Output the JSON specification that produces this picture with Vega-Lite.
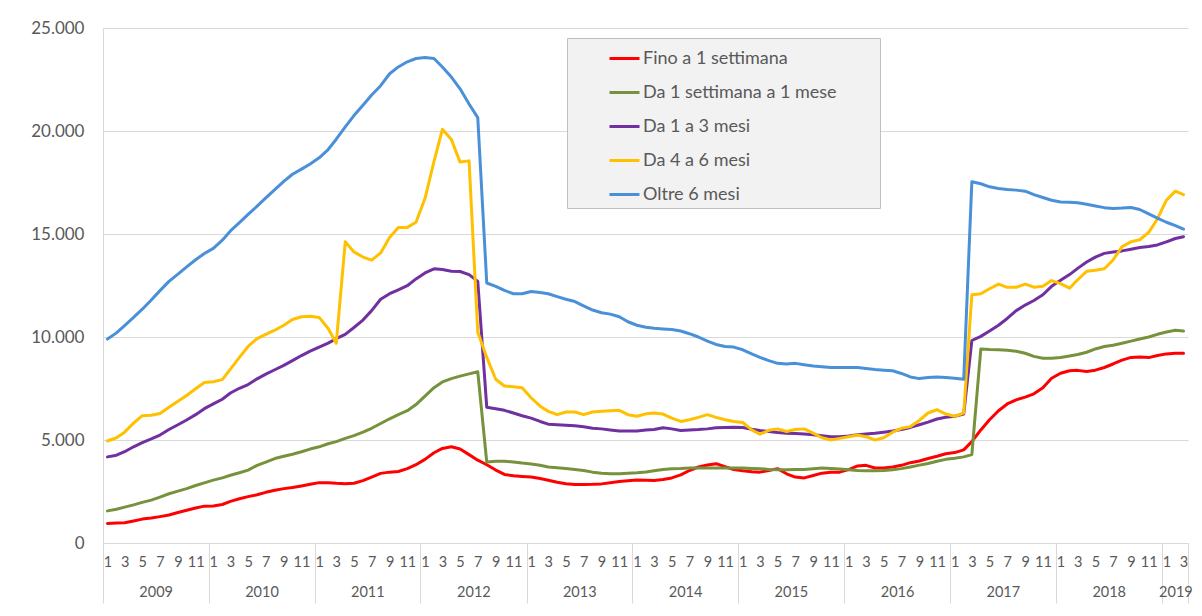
{
  "$schema": "https://vega.github.io/schema/vega-lite/v6.json",
  "width": 1085,
  "height": 515,
  "autosize": {"type": "none"},
  "padding": {"left": 103, "top": 28, "right": 14, "bottom": 73},
  "background": "white",
  "config": {
    "font": "Lato",
    "view": {"stroke": null},
    "axis": {"labelFont": "Lato", "labelColor": "#595959", "domainColor": "#d9d9d9", "tickColor": "#d9d9d9", "gridColor": "#d9d9d9", "title": null}
  },
  "data": {
    "values": [
      {"mese": "2009-01", "Fino a 1 settimana": 950, "Da 1 settimana a 1 mese": 1560, "Da 1 a 3 mesi": 4180, "Da 4 a 6 mesi": 4950, "Oltre 6 mesi": 9900},
      {"mese": "2009-02", "Fino a 1 settimana": 970, "Da 1 settimana a 1 mese": 1640, "Da 1 a 3 mesi": 4260, "Da 4 a 6 mesi": 5110, "Oltre 6 mesi": 10200},
      {"mese": "2009-03", "Fino a 1 settimana": 980, "Da 1 settimana a 1 mese": 1740, "Da 1 a 3 mesi": 4430, "Da 4 a 6 mesi": 5380, "Oltre 6 mesi": 10550},
      {"mese": "2009-04", "Fino a 1 settimana": 1070, "Da 1 settimana a 1 mese": 1850, "Da 1 a 3 mesi": 4670, "Da 4 a 6 mesi": 5820, "Oltre 6 mesi": 10950},
      {"mese": "2009-05", "Fino a 1 settimana": 1160, "Da 1 settimana a 1 mese": 1970, "Da 1 a 3 mesi": 4870, "Da 4 a 6 mesi": 6180, "Oltre 6 mesi": 11350},
      {"mese": "2009-06", "Fino a 1 settimana": 1210, "Da 1 settimana a 1 mese": 2080, "Da 1 a 3 mesi": 5050, "Da 4 a 6 mesi": 6200, "Oltre 6 mesi": 11800},
      {"mese": "2009-07", "Fino a 1 settimana": 1280, "Da 1 settimana a 1 mese": 2230, "Da 1 a 3 mesi": 5240, "Da 4 a 6 mesi": 6290, "Oltre 6 mesi": 12250},
      {"mese": "2009-08", "Fino a 1 settimana": 1360, "Da 1 settimana a 1 mese": 2390, "Da 1 a 3 mesi": 5510, "Da 4 a 6 mesi": 6590, "Oltre 6 mesi": 12700},
      {"mese": "2009-09", "Fino a 1 settimana": 1480, "Da 1 settimana a 1 mese": 2520, "Da 1 a 3 mesi": 5740, "Da 4 a 6 mesi": 6880, "Oltre 6 mesi": 13050},
      {"mese": "2009-10", "Fino a 1 settimana": 1590, "Da 1 settimana a 1 mese": 2640, "Da 1 a 3 mesi": 5970, "Da 4 a 6 mesi": 7160, "Oltre 6 mesi": 13400},
      {"mese": "2009-11", "Fino a 1 settimana": 1700, "Da 1 settimana a 1 mese": 2790, "Da 1 a 3 mesi": 6230, "Da 4 a 6 mesi": 7490, "Oltre 6 mesi": 13750},
      {"mese": "2009-12", "Fino a 1 settimana": 1790, "Da 1 settimana a 1 mese": 2920, "Da 1 a 3 mesi": 6520, "Da 4 a 6 mesi": 7790, "Oltre 6 mesi": 14050},
      {"mese": "2010-01", "Fino a 1 settimana": 1800, "Da 1 settimana a 1 mese": 3050, "Da 1 a 3 mesi": 6750, "Da 4 a 6 mesi": 7830, "Oltre 6 mesi": 14300},
      {"mese": "2010-02", "Fino a 1 settimana": 1870, "Da 1 settimana a 1 mese": 3160, "Da 1 a 3 mesi": 6980, "Da 4 a 6 mesi": 7930, "Oltre 6 mesi": 14700},
      {"mese": "2010-03", "Fino a 1 settimana": 2020, "Da 1 settimana a 1 mese": 3290, "Da 1 a 3 mesi": 7280, "Da 4 a 6 mesi": 8440, "Oltre 6 mesi": 15150},
      {"mese": "2010-04", "Fino a 1 settimana": 2150, "Da 1 settimana a 1 mese": 3410, "Da 1 a 3 mesi": 7510, "Da 4 a 6 mesi": 9010, "Oltre 6 mesi": 15550},
      {"mese": "2010-05", "Fino a 1 settimana": 2250, "Da 1 settimana a 1 mese": 3540, "Da 1 a 3 mesi": 7690, "Da 4 a 6 mesi": 9540, "Oltre 6 mesi": 15950},
      {"mese": "2010-06", "Fino a 1 settimana": 2340, "Da 1 settimana a 1 mese": 3770, "Da 1 a 3 mesi": 7970, "Da 4 a 6 mesi": 9920, "Oltre 6 mesi": 16350},
      {"mese": "2010-07", "Fino a 1 settimana": 2460, "Da 1 settimana a 1 mese": 3930, "Da 1 a 3 mesi": 8200, "Da 4 a 6 mesi": 10130, "Oltre 6 mesi": 16750},
      {"mese": "2010-08", "Fino a 1 settimana": 2560, "Da 1 settimana a 1 mese": 4100, "Da 1 a 3 mesi": 8410, "Da 4 a 6 mesi": 10330, "Oltre 6 mesi": 17150},
      {"mese": "2010-09", "Fino a 1 settimana": 2640, "Da 1 settimana a 1 mese": 4210, "Da 1 a 3 mesi": 8620, "Da 4 a 6 mesi": 10570, "Oltre 6 mesi": 17550},
      {"mese": "2010-10", "Fino a 1 settimana": 2690, "Da 1 settimana a 1 mese": 4310, "Da 1 a 3 mesi": 8850, "Da 4 a 6 mesi": 10850, "Oltre 6 mesi": 17900},
      {"mese": "2010-11", "Fino a 1 settimana": 2770, "Da 1 settimana a 1 mese": 4430, "Da 1 a 3 mesi": 9100, "Da 4 a 6 mesi": 10980, "Oltre 6 mesi": 18150},
      {"mese": "2010-12", "Fino a 1 settimana": 2850, "Da 1 settimana a 1 mese": 4560, "Da 1 a 3 mesi": 9310, "Da 4 a 6 mesi": 11010, "Oltre 6 mesi": 18400},
      {"mese": "2011-01", "Fino a 1 settimana": 2930, "Da 1 settimana a 1 mese": 4670, "Da 1 a 3 mesi": 9510, "Da 4 a 6 mesi": 10950, "Oltre 6 mesi": 18700},
      {"mese": "2011-02", "Fino a 1 settimana": 2930, "Da 1 settimana a 1 mese": 4820, "Da 1 a 3 mesi": 9700, "Da 4 a 6 mesi": 10410, "Oltre 6 mesi": 19100},
      {"mese": "2011-03", "Fino a 1 settimana": 2900, "Da 1 settimana a 1 mese": 4920, "Da 1 a 3 mesi": 9920, "Da 4 a 6 mesi": 9700, "Oltre 6 mesi": 19600},
      {"mese": "2011-04", "Fino a 1 settimana": 2880, "Da 1 settimana a 1 mese": 5080, "Da 1 a 3 mesi": 10130, "Da 4 a 6 mesi": 14620, "Oltre 6 mesi": 20200},
      {"mese": "2011-05", "Fino a 1 settimana": 2900, "Da 1 settimana a 1 mese": 5210, "Da 1 a 3 mesi": 10460, "Da 4 a 6 mesi": 14130, "Oltre 6 mesi": 20750},
      {"mese": "2011-06", "Fino a 1 settimana": 3030, "Da 1 settimana a 1 mese": 5380, "Da 1 a 3 mesi": 10820, "Da 4 a 6 mesi": 13880, "Oltre 6 mesi": 21250},
      {"mese": "2011-07", "Fino a 1 settimana": 3200, "Da 1 settimana a 1 mese": 5570, "Da 1 a 3 mesi": 11280, "Da 4 a 6 mesi": 13730, "Oltre 6 mesi": 21750},
      {"mese": "2011-08", "Fino a 1 settimana": 3380, "Da 1 settimana a 1 mese": 5800, "Da 1 a 3 mesi": 11830, "Da 4 a 6 mesi": 14080, "Oltre 6 mesi": 22200},
      {"mese": "2011-09", "Fino a 1 settimana": 3440, "Da 1 settimana a 1 mese": 6030, "Da 1 a 3 mesi": 12100, "Da 4 a 6 mesi": 14830, "Oltre 6 mesi": 22780},
      {"mese": "2011-10", "Fino a 1 settimana": 3470, "Da 1 settimana a 1 mese": 6230, "Da 1 a 3 mesi": 12290, "Da 4 a 6 mesi": 15320, "Oltre 6 mesi": 23110},
      {"mese": "2011-11", "Fino a 1 settimana": 3610, "Da 1 settimana a 1 mese": 6420, "Da 1 a 3 mesi": 12490, "Da 4 a 6 mesi": 15320, "Oltre 6 mesi": 23360},
      {"mese": "2011-12", "Fino a 1 settimana": 3800, "Da 1 settimana a 1 mese": 6720, "Da 1 a 3 mesi": 12820, "Da 4 a 6 mesi": 15570, "Oltre 6 mesi": 23520},
      {"mese": "2012-01", "Fino a 1 settimana": 4060, "Da 1 settimana a 1 mese": 7130, "Da 1 a 3 mesi": 13110, "Da 4 a 6 mesi": 16720, "Oltre 6 mesi": 23570},
      {"mese": "2012-02", "Fino a 1 settimana": 4380, "Da 1 settimana a 1 mese": 7540, "Da 1 a 3 mesi": 13310, "Da 4 a 6 mesi": 18520, "Oltre 6 mesi": 23520},
      {"mese": "2012-03", "Fino a 1 settimana": 4590, "Da 1 settimana a 1 mese": 7820, "Da 1 a 3 mesi": 13280, "Da 4 a 6 mesi": 20080, "Oltre 6 mesi": 23110},
      {"mese": "2012-04", "Fino a 1 settimana": 4670, "Da 1 settimana a 1 mese": 7980, "Da 1 a 3 mesi": 13190, "Da 4 a 6 mesi": 19590, "Oltre 6 mesi": 22620},
      {"mese": "2012-05", "Fino a 1 settimana": 4560, "Da 1 settimana a 1 mese": 8100, "Da 1 a 3 mesi": 13180, "Da 4 a 6 mesi": 18490, "Oltre 6 mesi": 22050},
      {"mese": "2012-06", "Fino a 1 settimana": 4290, "Da 1 settimana a 1 mese": 8210, "Da 1 a 3 mesi": 13030, "Da 4 a 6 mesi": 18550, "Oltre 6 mesi": 21310},
      {"mese": "2012-07", "Fino a 1 settimana": 4020, "Da 1 settimana a 1 mese": 8310, "Da 1 a 3 mesi": 12700, "Da 4 a 6 mesi": 10240, "Oltre 6 mesi": 20650},
      {"mese": "2012-08", "Fino a 1 settimana": 3800, "Da 1 settimana a 1 mese": 3930, "Da 1 a 3 mesi": 6590, "Da 4 a 6 mesi": 9010, "Oltre 6 mesi": 12620},
      {"mese": "2012-09", "Fino a 1 settimana": 3540, "Da 1 settimana a 1 mese": 3970, "Da 1 a 3 mesi": 6520, "Da 4 a 6 mesi": 7950, "Oltre 6 mesi": 12460},
      {"mese": "2012-10", "Fino a 1 settimana": 3330, "Da 1 settimana a 1 mese": 3970, "Da 1 a 3 mesi": 6440, "Da 4 a 6 mesi": 7620, "Oltre 6 mesi": 12260},
      {"mese": "2012-11", "Fino a 1 settimana": 3260, "Da 1 settimana a 1 mese": 3930, "Da 1 a 3 mesi": 6310, "Da 4 a 6 mesi": 7590, "Oltre 6 mesi": 12100},
      {"mese": "2012-12", "Fino a 1 settimana": 3230, "Da 1 settimana a 1 mese": 3880, "Da 1 a 3 mesi": 6180, "Da 4 a 6 mesi": 7540, "Oltre 6 mesi": 12100},
      {"mese": "2013-01", "Fino a 1 settimana": 3200, "Da 1 settimana a 1 mese": 3840, "Da 1 a 3 mesi": 6060, "Da 4 a 6 mesi": 7050, "Oltre 6 mesi": 12210},
      {"mese": "2013-02", "Fino a 1 settimana": 3130, "Da 1 settimana a 1 mese": 3770, "Da 1 a 3 mesi": 5900, "Da 4 a 6 mesi": 6640, "Oltre 6 mesi": 12160},
      {"mese": "2013-03", "Fino a 1 settimana": 3050, "Da 1 settimana a 1 mese": 3690, "Da 1 a 3 mesi": 5770, "Da 4 a 6 mesi": 6390, "Oltre 6 mesi": 12100},
      {"mese": "2013-04", "Fino a 1 settimana": 2950, "Da 1 settimana a 1 mese": 3650, "Da 1 a 3 mesi": 5740, "Da 4 a 6 mesi": 6230, "Oltre 6 mesi": 11960},
      {"mese": "2013-05", "Fino a 1 settimana": 2880, "Da 1 settimana a 1 mese": 3620, "Da 1 a 3 mesi": 5720, "Da 4 a 6 mesi": 6360, "Oltre 6 mesi": 11830},
      {"mese": "2013-06", "Fino a 1 settimana": 2840, "Da 1 settimana a 1 mese": 3570, "Da 1 a 3 mesi": 5690, "Da 4 a 6 mesi": 6360, "Oltre 6 mesi": 11720},
      {"mese": "2013-07", "Fino a 1 settimana": 2840, "Da 1 settimana a 1 mese": 3520, "Da 1 a 3 mesi": 5640, "Da 4 a 6 mesi": 6230, "Oltre 6 mesi": 11510},
      {"mese": "2013-08", "Fino a 1 settimana": 2850, "Da 1 settimana a 1 mese": 3440, "Da 1 a 3 mesi": 5570, "Da 4 a 6 mesi": 6360, "Oltre 6 mesi": 11310},
      {"mese": "2013-09", "Fino a 1 settimana": 2870, "Da 1 settimana a 1 mese": 3390, "Da 1 a 3 mesi": 5540, "Da 4 a 6 mesi": 6390, "Oltre 6 mesi": 11180},
      {"mese": "2013-10", "Fino a 1 settimana": 2930, "Da 1 settimana a 1 mese": 3360, "Da 1 a 3 mesi": 5490, "Da 4 a 6 mesi": 6420, "Oltre 6 mesi": 11110},
      {"mese": "2013-11", "Fino a 1 settimana": 2980, "Da 1 settimana a 1 mese": 3360, "Da 1 a 3 mesi": 5440, "Da 4 a 6 mesi": 6440, "Oltre 6 mesi": 10980},
      {"mese": "2013-12", "Fino a 1 settimana": 3020, "Da 1 settimana a 1 mese": 3380, "Da 1 a 3 mesi": 5440, "Da 4 a 6 mesi": 6230, "Oltre 6 mesi": 10740},
      {"mese": "2014-01", "Fino a 1 settimana": 3060, "Da 1 settimana a 1 mese": 3410, "Da 1 a 3 mesi": 5440, "Da 4 a 6 mesi": 6150, "Oltre 6 mesi": 10570},
      {"mese": "2014-02", "Fino a 1 settimana": 3050, "Da 1 settimana a 1 mese": 3450, "Da 1 a 3 mesi": 5480, "Da 4 a 6 mesi": 6270, "Oltre 6 mesi": 10470},
      {"mese": "2014-03", "Fino a 1 settimana": 3030, "Da 1 settimana a 1 mese": 3510, "Da 1 a 3 mesi": 5510, "Da 4 a 6 mesi": 6310, "Oltre 6 mesi": 10420},
      {"mese": "2014-04", "Fino a 1 settimana": 3080, "Da 1 settimana a 1 mese": 3570, "Da 1 a 3 mesi": 5590, "Da 4 a 6 mesi": 6260, "Oltre 6 mesi": 10390},
      {"mese": "2014-05", "Fino a 1 settimana": 3160, "Da 1 settimana a 1 mese": 3610, "Da 1 a 3 mesi": 5540, "Da 4 a 6 mesi": 6060, "Oltre 6 mesi": 10360},
      {"mese": "2014-06", "Fino a 1 settimana": 3310, "Da 1 settimana a 1 mese": 3620, "Da 1 a 3 mesi": 5460, "Da 4 a 6 mesi": 5900, "Oltre 6 mesi": 10290},
      {"mese": "2014-07", "Fino a 1 settimana": 3520, "Da 1 settimana a 1 mese": 3640, "Da 1 a 3 mesi": 5490, "Da 4 a 6 mesi": 5980, "Oltre 6 mesi": 10160},
      {"mese": "2014-08", "Fino a 1 settimana": 3690, "Da 1 settimana a 1 mese": 3640, "Da 1 a 3 mesi": 5510, "Da 4 a 6 mesi": 6100, "Oltre 6 mesi": 10000},
      {"mese": "2014-09", "Fino a 1 settimana": 3790, "Da 1 settimana a 1 mese": 3640, "Da 1 a 3 mesi": 5540, "Da 4 a 6 mesi": 6230, "Oltre 6 mesi": 9800},
      {"mese": "2014-10", "Fino a 1 settimana": 3850, "Da 1 settimana a 1 mese": 3640, "Da 1 a 3 mesi": 5590, "Da 4 a 6 mesi": 6100, "Oltre 6 mesi": 9640},
      {"mese": "2014-11", "Fino a 1 settimana": 3700, "Da 1 settimana a 1 mese": 3640, "Da 1 a 3 mesi": 5610, "Da 4 a 6 mesi": 5980, "Oltre 6 mesi": 9540},
      {"mese": "2014-12", "Fino a 1 settimana": 3570, "Da 1 settimana a 1 mese": 3640, "Da 1 a 3 mesi": 5620, "Da 4 a 6 mesi": 5900, "Oltre 6 mesi": 9510},
      {"mese": "2015-01", "Fino a 1 settimana": 3510, "Da 1 settimana a 1 mese": 3640, "Da 1 a 3 mesi": 5610, "Da 4 a 6 mesi": 5850, "Oltre 6 mesi": 9380},
      {"mese": "2015-02", "Fino a 1 settimana": 3460, "Da 1 settimana a 1 mese": 3620, "Da 1 a 3 mesi": 5520, "Da 4 a 6 mesi": 5490, "Oltre 6 mesi": 9180},
      {"mese": "2015-03", "Fino a 1 settimana": 3440, "Da 1 settimana a 1 mese": 3610, "Da 1 a 3 mesi": 5460, "Da 4 a 6 mesi": 5280, "Oltre 6 mesi": 9010},
      {"mese": "2015-04", "Fino a 1 settimana": 3520, "Da 1 settimana a 1 mese": 3570, "Da 1 a 3 mesi": 5410, "Da 4 a 6 mesi": 5470, "Oltre 6 mesi": 8850},
      {"mese": "2015-05", "Fino a 1 settimana": 3610, "Da 1 settimana a 1 mese": 3560, "Da 1 a 3 mesi": 5360, "Da 4 a 6 mesi": 5540, "Oltre 6 mesi": 8720},
      {"mese": "2015-06", "Fino a 1 settimana": 3360, "Da 1 settimana a 1 mese": 3560, "Da 1 a 3 mesi": 5330, "Da 4 a 6 mesi": 5410, "Oltre 6 mesi": 8690},
      {"mese": "2015-07", "Fino a 1 settimana": 3200, "Da 1 settimana a 1 mese": 3570, "Da 1 a 3 mesi": 5310, "Da 4 a 6 mesi": 5510, "Oltre 6 mesi": 8720},
      {"mese": "2015-08", "Fino a 1 settimana": 3160, "Da 1 settimana a 1 mese": 3570, "Da 1 a 3 mesi": 5290, "Da 4 a 6 mesi": 5540, "Oltre 6 mesi": 8650},
      {"mese": "2015-09", "Fino a 1 settimana": 3280, "Da 1 settimana a 1 mese": 3610, "Da 1 a 3 mesi": 5260, "Da 4 a 6 mesi": 5330, "Oltre 6 mesi": 8590},
      {"mese": "2015-10", "Fino a 1 settimana": 3390, "Da 1 settimana a 1 mese": 3640, "Da 1 a 3 mesi": 5210, "Da 4 a 6 mesi": 5110, "Oltre 6 mesi": 8560},
      {"mese": "2015-11", "Fino a 1 settimana": 3430, "Da 1 settimana a 1 mese": 3620, "Da 1 a 3 mesi": 5160, "Da 4 a 6 mesi": 5000, "Oltre 6 mesi": 8520},
      {"mese": "2015-12", "Fino a 1 settimana": 3440, "Da 1 settimana a 1 mese": 3590, "Da 1 a 3 mesi": 5160, "Da 4 a 6 mesi": 5080, "Oltre 6 mesi": 8520},
      {"mese": "2016-01", "Fino a 1 settimana": 3560, "Da 1 settimana a 1 mese": 3560, "Da 1 a 3 mesi": 5200, "Da 4 a 6 mesi": 5160, "Oltre 6 mesi": 8520},
      {"mese": "2016-02", "Fino a 1 settimana": 3740, "Da 1 settimana a 1 mese": 3520, "Da 1 a 3 mesi": 5260, "Da 4 a 6 mesi": 5240, "Oltre 6 mesi": 8520},
      {"mese": "2016-03", "Fino a 1 settimana": 3770, "Da 1 settimana a 1 mese": 3510, "Da 1 a 3 mesi": 5290, "Da 4 a 6 mesi": 5160, "Oltre 6 mesi": 8470},
      {"mese": "2016-04", "Fino a 1 settimana": 3640, "Da 1 settimana a 1 mese": 3510, "Da 1 a 3 mesi": 5330, "Da 4 a 6 mesi": 5000, "Oltre 6 mesi": 8420},
      {"mese": "2016-05", "Fino a 1 settimana": 3640, "Da 1 settimana a 1 mese": 3520, "Da 1 a 3 mesi": 5380, "Da 4 a 6 mesi": 5110, "Oltre 6 mesi": 8390},
      {"mese": "2016-06", "Fino a 1 settimana": 3690, "Da 1 settimana a 1 mese": 3560, "Da 1 a 3 mesi": 5440, "Da 4 a 6 mesi": 5380, "Oltre 6 mesi": 8360},
      {"mese": "2016-07", "Fino a 1 settimana": 3770, "Da 1 settimana a 1 mese": 3610, "Da 1 a 3 mesi": 5510, "Da 4 a 6 mesi": 5570, "Oltre 6 mesi": 8230},
      {"mese": "2016-08", "Fino a 1 settimana": 3900, "Da 1 settimana a 1 mese": 3690, "Da 1 a 3 mesi": 5610, "Da 4 a 6 mesi": 5650, "Oltre 6 mesi": 8060},
      {"mese": "2016-09", "Fino a 1 settimana": 3980, "Da 1 settimana a 1 mese": 3780, "Da 1 a 3 mesi": 5740, "Da 4 a 6 mesi": 5950, "Oltre 6 mesi": 7980},
      {"mese": "2016-10", "Fino a 1 settimana": 4100, "Da 1 settimana a 1 mese": 3860, "Da 1 a 3 mesi": 5870, "Da 4 a 6 mesi": 6310, "Oltre 6 mesi": 8030},
      {"mese": "2016-11", "Fino a 1 settimana": 4210, "Da 1 settimana a 1 mese": 3970, "Da 1 a 3 mesi": 6020, "Da 4 a 6 mesi": 6470, "Oltre 6 mesi": 8060},
      {"mese": "2016-12", "Fino a 1 settimana": 4330, "Da 1 settimana a 1 mese": 4060, "Da 1 a 3 mesi": 6100, "Da 4 a 6 mesi": 6260, "Oltre 6 mesi": 8030},
      {"mese": "2017-01", "Fino a 1 settimana": 4390, "Da 1 settimana a 1 mese": 4110, "Da 1 a 3 mesi": 6150, "Da 4 a 6 mesi": 6150, "Oltre 6 mesi": 8000},
      {"mese": "2017-02", "Fino a 1 settimana": 4520, "Da 1 settimana a 1 mese": 4180, "Da 1 a 3 mesi": 6260, "Da 4 a 6 mesi": 6310, "Oltre 6 mesi": 7950},
      {"mese": "2017-03", "Fino a 1 settimana": 4920, "Da 1 settimana a 1 mese": 4290, "Da 1 a 3 mesi": 9830, "Da 4 a 6 mesi": 12050, "Oltre 6 mesi": 17540},
      {"mese": "2017-04", "Fino a 1 settimana": 5490, "Da 1 settimana a 1 mese": 9420, "Da 1 a 3 mesi": 10030, "Da 4 a 6 mesi": 12100, "Oltre 6 mesi": 17440},
      {"mese": "2017-05", "Fino a 1 settimana": 5980, "Da 1 settimana a 1 mese": 9390, "Da 1 a 3 mesi": 10290, "Da 4 a 6 mesi": 12340, "Oltre 6 mesi": 17290},
      {"mese": "2017-06", "Fino a 1 settimana": 6420, "Da 1 settimana a 1 mese": 9380, "Da 1 a 3 mesi": 10570, "Da 4 a 6 mesi": 12570, "Oltre 6 mesi": 17210},
      {"mese": "2017-07", "Fino a 1 settimana": 6750, "Da 1 settimana a 1 mese": 9360, "Da 1 a 3 mesi": 10900, "Da 4 a 6 mesi": 12410, "Oltre 6 mesi": 17160},
      {"mese": "2017-08", "Fino a 1 settimana": 6950, "Da 1 settimana a 1 mese": 9310, "Da 1 a 3 mesi": 11280, "Da 4 a 6 mesi": 12410, "Oltre 6 mesi": 17130},
      {"mese": "2017-09", "Fino a 1 settimana": 7080, "Da 1 settimana a 1 mese": 9210, "Da 1 a 3 mesi": 11550, "Da 4 a 6 mesi": 12570, "Oltre 6 mesi": 17080},
      {"mese": "2017-10", "Fino a 1 settimana": 7240, "Da 1 settimana a 1 mese": 9060, "Da 1 a 3 mesi": 11770, "Da 4 a 6 mesi": 12420, "Oltre 6 mesi": 16910},
      {"mese": "2017-11", "Fino a 1 settimana": 7540, "Da 1 settimana a 1 mese": 8970, "Da 1 a 3 mesi": 12050, "Da 4 a 6 mesi": 12460, "Oltre 6 mesi": 16770},
      {"mese": "2017-12", "Fino a 1 settimana": 8000, "Da 1 settimana a 1 mese": 8970, "Da 1 a 3 mesi": 12460, "Da 4 a 6 mesi": 12740, "Oltre 6 mesi": 16640},
      {"mese": "2018-01", "Fino a 1 settimana": 8240, "Da 1 settimana a 1 mese": 9010, "Da 1 a 3 mesi": 12750, "Da 4 a 6 mesi": 12590, "Oltre 6 mesi": 16550},
      {"mese": "2018-02", "Fino a 1 settimana": 8360, "Da 1 settimana a 1 mese": 9080, "Da 1 a 3 mesi": 13030, "Da 4 a 6 mesi": 12370, "Oltre 6 mesi": 16540},
      {"mese": "2018-03", "Fino a 1 settimana": 8380, "Da 1 settimana a 1 mese": 9150, "Da 1 a 3 mesi": 13330, "Da 4 a 6 mesi": 12780, "Oltre 6 mesi": 16520},
      {"mese": "2018-04", "Fino a 1 settimana": 8330, "Da 1 settimana a 1 mese": 9260, "Da 1 a 3 mesi": 13640, "Da 4 a 6 mesi": 13190, "Oltre 6 mesi": 16440},
      {"mese": "2018-05", "Fino a 1 settimana": 8390, "Da 1 settimana a 1 mese": 9420, "Da 1 a 3 mesi": 13880, "Da 4 a 6 mesi": 13240, "Oltre 6 mesi": 16360},
      {"mese": "2018-06", "Fino a 1 settimana": 8520, "Da 1 settimana a 1 mese": 9540, "Da 1 a 3 mesi": 14060, "Da 4 a 6 mesi": 13310, "Oltre 6 mesi": 16280},
      {"mese": "2018-07", "Fino a 1 settimana": 8690, "Da 1 settimana a 1 mese": 9600, "Da 1 a 3 mesi": 14130, "Da 4 a 6 mesi": 13740, "Oltre 6 mesi": 16240},
      {"mese": "2018-08", "Fino a 1 settimana": 8880, "Da 1 settimana a 1 mese": 9700, "Da 1 a 3 mesi": 14180, "Da 4 a 6 mesi": 14390, "Oltre 6 mesi": 16260},
      {"mese": "2018-09", "Fino a 1 settimana": 9010, "Da 1 settimana a 1 mese": 9800, "Da 1 a 3 mesi": 14260, "Da 4 a 6 mesi": 14620, "Oltre 6 mesi": 16290},
      {"mese": "2018-10", "Fino a 1 settimana": 9030, "Da 1 settimana a 1 mese": 9900, "Da 1 a 3 mesi": 14340, "Da 4 a 6 mesi": 14720, "Oltre 6 mesi": 16190},
      {"mese": "2018-11", "Fino a 1 settimana": 9000, "Da 1 settimana a 1 mese": 10000, "Da 1 a 3 mesi": 14390, "Da 4 a 6 mesi": 15080, "Oltre 6 mesi": 15980},
      {"mese": "2018-12", "Fino a 1 settimana": 9100, "Da 1 settimana a 1 mese": 10130, "Da 1 a 3 mesi": 14470, "Da 4 a 6 mesi": 15730, "Oltre 6 mesi": 15770},
      {"mese": "2019-01", "Fino a 1 settimana": 9180, "Da 1 settimana a 1 mese": 10240, "Da 1 a 3 mesi": 14620, "Da 4 a 6 mesi": 16640, "Oltre 6 mesi": 15570},
      {"mese": "2019-02", "Fino a 1 settimana": 9210, "Da 1 settimana a 1 mese": 10330, "Da 1 a 3 mesi": 14780, "Da 4 a 6 mesi": 17080, "Oltre 6 mesi": 15410},
      {"mese": "2019-03", "Fino a 1 settimana": 9210, "Da 1 settimana a 1 mese": 10290, "Da 1 a 3 mesi": 14870, "Da 4 a 6 mesi": 16910, "Oltre 6 mesi": 15240}
    ]
  },
  "transform": [
    {"fold": ["Fino a 1 settimana", "Da 1 settimana a 1 mese", "Da 1 a 3 mesi", "Da 4 a 6 mesi", "Oltre 6 mesi"], "as": ["serie", "valore"]}
  ],
  "encoding": {
    "y": {
      "field": "valore",
      "type": "quantitative",
      "scale": {"domain": [0, 25000], "nice": false},
      "axis": {
        "values": [0, 5000, 10000, 15000, 20000, 25000],
        "labelExpr": "replace(format(datum.value, ','), ',', '.')",
        "labelFontSize": 17,
        "labelPadding": 19,
        "ticks": false,
        "domain": true,
        "grid": true,
        "title": null
      }
    },
    "color": {
      "field": "serie",
      "type": "nominal",
      "scale": {
        "domain": ["Fino a 1 settimana", "Da 1 settimana a 1 mese", "Da 1 a 3 mesi", "Da 4 a 6 mesi", "Oltre 6 mesi"],
        "range": ["#ff0000", "#76923c", "#7030a0", "#ffc000", "#4a90d9"]
      },
      "legend": {
        "orient": "none",
        "legendX": 464,
        "legendY": 10,
        "title": null,
        "fillColor": "#f2f2f2",
        "strokeColor": "#bfbfbf",
        "padding": 4,
        "symbolType": "stroke",
        "symbolSize": 900,
        "symbolStrokeWidth": 3,
        "symbolOffset": 37,
        "labelOffset": 2,
        "labelFont": "Lato",
        "labelFontSize": 18,
        "labelColor": "#595959",
        "labelLimit": 500,
        "rowPadding": 8,
        "labelExpr": "datum.label + '\u2800\u2800\u2800'"
      }
    }
  },
  "layer": [
    {
      "transform": [{"filter": {"field": "serie", "oneOf": ["Fino a 1 settimana", "Da 1 settimana a 1 mese"]}}],
      "mark": {"type": "line", "strokeWidth": 3, "strokeJoin": "round", "strokeCap": "round"},
      "encoding": {
        "x": {
          "field": "mese",
          "type": "temporal",
          "scale": {
            "type": "utc",
            "domain": [
              {"year": 2008, "month": 12, "date": 16, "hours": 12, "utc": true},
              {"year": 2019, "month": 3, "date": 16, "hours": 12, "utc": true}
            ]
          },
          "axis": {
            "orient": "bottom",
            "tickCount": {"interval": "month", "step": 2},
            "labelExpr": "'' + (utcmonth(datum.value) + 1)",
            "ticks": false,
            "domain": true,
            "grid": false,
            "labelFontSize": 14.5,
            "labelPadding": 12,
            "labelOverlap": false,
            "labelFlush": false,
            "labelBound": false,
            "title": null
          }
        }
      }
    },
    {
      "transform": [{"filter": {"field": "serie", "oneOf": ["Da 1 a 3 mesi", "Da 4 a 6 mesi"]}}],
      "mark": {"type": "line", "strokeWidth": 3, "strokeJoin": "round", "strokeCap": "round"},
      "encoding": {
        "x": {
          "field": "mese",
          "type": "temporal",
          "axis": {
            "orient": "bottom",
            "values": [
              {"year": 2008, "month": 12, "date": 16, "hours": 12, "utc": true},
              {"year": 2009, "month": 12, "date": 16, "hours": 12, "utc": true},
              {"year": 2010, "month": 12, "date": 16, "hours": 12, "utc": true},
              {"year": 2011, "month": 12, "date": 16, "hours": 12, "utc": true},
              {"year": 2012, "month": 12, "date": 16, "hours": 12, "utc": true},
              {"year": 2013, "month": 12, "date": 16, "hours": 12, "utc": true},
              {"year": 2014, "month": 12, "date": 16, "hours": 12, "utc": true},
              {"year": 2015, "month": 12, "date": 16, "hours": 12, "utc": true},
              {"year": 2016, "month": 12, "date": 16, "hours": 12, "utc": true},
              {"year": 2017, "month": 12, "date": 16, "hours": 12, "utc": true},
              {"year": 2018, "month": 12, "date": 16, "hours": 12, "utc": true},
              {"year": 2019, "month": 3, "date": 16, "hours": 12, "utc": true}
            ],
            "ticks": true,
            "tickSize": 60,
            "tickWidth": 1,
            "tickColor": "#d9d9d9",
            "labels": false,
            "domain": false,
            "grid": false,
            "title": null
          }
        }
      }
    },
    {
      "transform": [{"filter": {"field": "serie", "equal": "Oltre 6 mesi"}}],
      "mark": {"type": "line", "strokeWidth": 3, "strokeJoin": "round", "strokeCap": "round"},
      "encoding": {
        "x": {
          "field": "mese",
          "type": "temporal",
          "axis": {
            "orient": "bottom",
            "values": [
              {"year": 2009, "month": 6, "date": 16, "utc": true},
              {"year": 2010, "month": 6, "date": 16, "utc": true},
              {"year": 2011, "month": 6, "date": 16, "utc": true},
              {"year": 2012, "month": 6, "date": 16, "utc": true},
              {"year": 2013, "month": 6, "date": 16, "utc": true},
              {"year": 2014, "month": 6, "date": 16, "utc": true},
              {"year": 2015, "month": 6, "date": 16, "utc": true},
              {"year": 2016, "month": 6, "date": 16, "utc": true},
              {"year": 2017, "month": 6, "date": 16, "utc": true},
              {"year": 2018, "month": 6, "date": 16, "utc": true},
              {"year": 2019, "month": 2, "date": 1, "utc": true}
            ],
            "labelExpr": "'' + utcyear(datum.value)",
            "ticks": false,
            "domain": false,
            "grid": false,
            "labelFontSize": 14.5,
            "labelPadding": 42,
            "labelOverlap": false,
            "labelFlush": false,
            "labelBound": false,
            "title": null
          }
        }
      }
    }
  ],
  "resolve": {"axis": {"x": "independent"}}
}
